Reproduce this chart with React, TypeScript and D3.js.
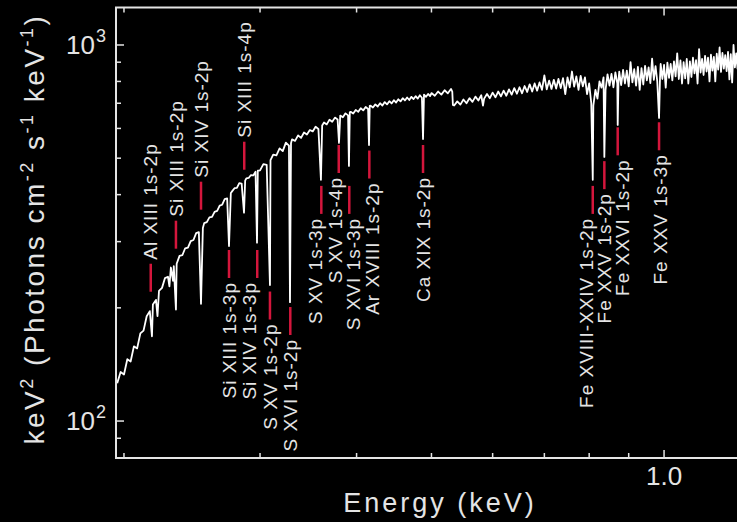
import * as d3 from "d3";

const WIDTH = 737;
const HEIGHT = 522;
const MARGIN = { left: 116, top: 7.5, right: 760, bottom: 458 };

// x axis is labelled in the figure's own units (1.0 at the major tick)
const X_DOMAIN = [0.1953, 1.331];
const Y_DOMAIN = [79.75, 1258];

const X_MINOR_TICKS = [0.2, 0.3, 0.4, 0.5, 0.6, 0.7, 0.8, 0.9];
const X_MAJOR_TICKS = [1.0];
const X_TICK_LABELS = ["1.0"];

const Y_MINOR_TICKS = [90, 200, 300, 400, 500, 600, 700, 800, 900];
const Y_MAJOR_TICKS = [100, 1000];
const Y_TICK_EXPONENTS = ["2", "3"];

// [energy, keV^2 flux]
const SPECTRUM: [number, number][] = [
  [0.196, 126], [0.198, 135], [0.2, 133], [0.202, 146], [0.204, 144], [0.206, 158],
  [0.208, 156], [0.21, 171], [0.212, 174], [0.214, 190], [0.216, 196], [0.2174, 168],
  [0.218, 204], [0.22, 210], [0.221, 190], [0.222, 222], [0.224, 226], [0.226, 240],
  [0.228, 242], [0.229, 228], [0.23, 256], [0.2315, 236], [0.232, 258], [0.2335, 198],
  [0.234, 262], [0.236, 275], [0.238, 276], [0.24, 288], [0.242, 289], [0.244, 301],
  [0.246, 303], [0.248, 316], [0.25, 318], [0.2516, 205], [0.253, 326], [0.254, 336],
  [0.256, 338], [0.258, 348], [0.26, 349], [0.262, 360], [0.264, 362], [0.266, 374],
  [0.268, 376], [0.27, 389], [0.272, 391], [0.2735, 292], [0.275, 404], [0.276, 408],
  [0.278, 416], [0.28, 417], [0.282, 429], [0.284, 428], [0.286, 358], [0.287, 436],
  [0.288, 442], [0.29, 443], [0.292, 451], [0.294, 450], [0.296, 460], [0.2973, 298],
  [0.298, 463], [0.3, 464], [0.303, 482], [0.306, 480], [0.309, 230], [0.3095, 494],
  [0.312, 511], [0.315, 509], [0.318, 531], [0.321, 522], [0.324, 550], [0.327, 540],
  [0.328, 207], [0.329, 548], [0.33, 561], [0.333, 556], [0.336, 575], [0.339, 566],
  [0.342, 585], [0.345, 578], [0.348, 594], [0.351, 589], [0.354, 606], [0.357, 598],
  [0.3597, 438], [0.361, 611], [0.363, 622], [0.366, 615], [0.369, 633], [0.372, 625],
  [0.375, 641], [0.378, 634], [0.3796, 549], [0.381, 649], [0.384, 642], [0.387, 658],
  [0.39, 650], [0.391, 477], [0.392, 662], [0.393, 664], [0.396, 657], [0.399, 672],
  [0.402, 664], [0.405, 679], [0.408, 670], [0.411, 684], [0.414, 676], [0.4151, 542],
  [0.416, 689], [0.417, 690], [0.42, 682], [0.423, 695], [0.426, 686], [0.429, 700],
  [0.432, 690], [0.435, 705], [0.438, 695], [0.441, 709], [0.444, 699], [0.447, 713],
  [0.45, 703], [0.453, 717], [0.456, 708], [0.459, 722], [0.462, 712], [0.465, 725],
  [0.468, 714], [0.471, 728], [0.474, 718], [0.477, 731], [0.48, 720], [0.483, 735],
  [0.486, 724], [0.4876, 562], [0.489, 738], [0.492, 728], [0.495, 741], [0.498, 731],
  [0.5, 745], [0.505, 733], [0.51, 752], [0.515, 738], [0.52, 758], [0.525, 744],
  [0.53, 764], [0.532, 752], [0.533, 693], [0.535, 690], [0.54, 708], [0.545, 694],
  [0.55, 716], [0.555, 700], [0.56, 722], [0.565, 706], [0.57, 729], [0.575, 712],
  [0.58, 735], [0.583, 690], [0.585, 720], [0.59, 741], [0.595, 722], [0.6, 747],
  [0.605, 726], [0.61, 752], [0.615, 730], [0.62, 756], [0.625, 733], [0.63, 762],
  [0.635, 738], [0.64, 768], [0.645, 742], [0.65, 772], [0.655, 744], [0.66, 778],
  [0.665, 750], [0.67, 786], [0.675, 752], [0.68, 790], [0.685, 756], [0.69, 795],
  [0.695, 760], [0.7, 830], [0.705, 762], [0.71, 804], [0.715, 764], [0.72, 808],
  [0.725, 766], [0.73, 812], [0.735, 768], [0.74, 816], [0.745, 740], [0.75, 820],
  [0.755, 772], [0.76, 850], [0.765, 775], [0.77, 825], [0.775, 760], [0.78, 828],
  [0.785, 776], [0.79, 820], [0.795, 740], [0.8, 790], [0.805, 700], [0.8086, 438],
  [0.81, 690], [0.815, 760], [0.82, 720], [0.825, 800], [0.83, 770], [0.835, 820],
  [0.837, 504], [0.84, 760], [0.845, 835], [0.85, 780], [0.855, 838], [0.86, 772],
  [0.865, 845], [0.87, 790], [0.871, 613], [0.873, 800], [0.875, 850], [0.88, 782],
  [0.885, 858], [0.89, 790], [0.895, 855], [0.9, 776], [0.905, 900], [0.91, 795],
  [0.915, 862], [0.92, 780], [0.925, 875], [0.93, 760], [0.935, 868], [0.94, 785],
  [0.945, 880], [0.95, 805], [0.955, 872], [0.96, 792], [0.965, 920], [0.97, 808],
  [0.975, 878], [0.98, 800], [0.9852, 640], [0.988, 815], [0.99, 890], [0.995, 812],
  [1.0, 885], [1.005, 770], [1.01, 898], [1.015, 818], [1.02, 890], [1.025, 805],
  [1.03, 905], [1.035, 825], [1.04, 950], [1.045, 812], [1.05, 910], [1.055, 790],
  [1.06, 900], [1.065, 815], [1.07, 918], [1.075, 790], [1.08, 905], [1.085, 822],
  [1.09, 925], [1.095, 840], [1.1, 912], [1.105, 790], [1.11, 975], [1.115, 845],
  [1.12, 918], [1.125, 832], [1.13, 936], [1.135, 850], [1.14, 925], [1.145, 800],
  [1.15, 942], [1.155, 855], [1.16, 930], [1.165, 800], [1.17, 948], [1.175, 860],
  [1.18, 985], [1.185, 848], [1.19, 952], [1.195, 865], [1.2, 940], [1.205, 852],
  [1.21, 958], [1.215, 810], [1.22, 945], [1.225, 795], [1.23, 1000], [1.235, 872],
  [1.24, 950], [1.245, 862],
];

// absorption line markers: energy, flux at top of the red tick, label side
const LINE_LABELS = [
  "Al XIII 1s-2p", "Si XIII 1s-2p", "Si XIV 1s-2p", "Si XIII 1s-4p",
  "Si XIII 1s-3p", "Si XIV 1s-3p", "S XV 1s-2p", "S XVI 1s-2p",
  "S XV 1s-3p", "S XV 1s-4p", "S XVI 1s-3p", "Ar XVIII 1s-2p",
  "Ca XIX 1s-2p", "Fe XVIII-XXIV 1s-2p", "Fe XXV 1s-2p", "Fe XXVI 1s-2p",
  "Fe XXV 1s-3p",
];
const LINE_ENERGIES = [
  0.2166, 0.2335, 0.2516, 0.2862, 0.2735, 0.2975, 0.309, 0.3283,
  0.3601, 0.3793, 0.3914, 0.4155, 0.4876, 0.8086, 0.837, 0.871, 0.9852,
];
const LINE_FLUX_TOP = [
  262, 341, 433, 553, 285, 285, 221, 201, 422, 542, 422, 524, 542, 422, 491, 604, 623,
];
const LINE_TEXT_ABOVE = [
  true, true, true, true, false, false, false, false,
  false, false, false, false, false, false, false, false, false,
];
// sideways nudge of crowded labels, px
const LABEL_NUDGE = [0, 0, 0, 0, 0, -8, 0, 0, -6, -3, 4, 3, 0, -6, 0, 5, 1];

const FG = "#e4e4e4";
const RED = "#d4163c";
const FONT = "'Liberation Sans', Arial, Helvetica, sans-serif";
const TICK_MINOR = 5;
const TICK_MAJOR = 8;
const MARK_LEN = 28;

export default function App() {
  const xScale = d3.scaleLog().domain(X_DOMAIN).range([MARGIN.left, MARGIN.right]);
  const yScale = d3.scaleLog().domain(Y_DOMAIN).range([MARGIN.bottom, MARGIN.top]);

  const line = d3
    .line<[number, number]>()
    .x((d) => xScale(d[0]))
    .y((d) => yScale(d[1]));

  const xTicks = [
    ...X_MINOR_TICKS.map((v) => ({ v, len: TICK_MINOR })),
    ...X_MAJOR_TICKS.map((v) => ({ v, len: TICK_MAJOR })),
  ];
  const yTicks = [
    ...Y_MINOR_TICKS.map((v) => ({ v, len: TICK_MINOR })),
    ...Y_MAJOR_TICKS.map((v) => ({ v, len: TICK_MAJOR })),
  ];

  return (
    <svg
      width={WIDTH}
      height={HEIGHT}
      style={{ position: "absolute", left: 0, top: 0, background: "#000", display: "block" }}
      fontFamily={FONT}
    >
      <rect x={0} y={0} width={WIDTH} height={HEIGHT} fill="#000" />
      <defs>
        <clipPath id="plot-clip">
          <rect
            x={MARGIN.left}
            y={MARGIN.top}
            width={MARGIN.right - MARGIN.left}
            height={MARGIN.bottom - MARGIN.top}
          />
        </clipPath>
      </defs>

      {/* spectrum */}
      <path
        d={line(SPECTRUM) ?? ""}
        fill="none"
        stroke="#fff"
        strokeWidth={1.8}
        strokeLinejoin="round"
        clipPath="url(#plot-clip)"
      />

      {/* frame */}
      <path
        d={`M${MARGIN.right},${MARGIN.top}H${MARGIN.left}V${MARGIN.bottom}H${MARGIN.right}`}
        fill="none"
        stroke={FG}
        strokeWidth={2}
      />

      {/* x ticks, bottom and top, pointing inward */}
      {xTicks.map((t, i) => {
        const x = xScale(t.v);
        return (
          <g key={"xt" + i} stroke={FG} strokeWidth={1.5}>
            <line x1={x} x2={x} y1={MARGIN.bottom} y2={MARGIN.bottom - t.len} />
            <line x1={x} x2={x} y1={MARGIN.top} y2={MARGIN.top + t.len} />
          </g>
        );
      })}
      {X_MAJOR_TICKS.map((v, i) => (
        <text
          key={"xl" + i}
          x={xScale(v)}
          y={MARGIN.bottom + 27}
          textAnchor="middle"
          fontSize={26}
          fill={FG}
        >
          {X_TICK_LABELS[i]}
        </text>
      ))}

      {/* y ticks */}
      {yTicks.map((t, i) => {
        const y = yScale(t.v);
        return (
          <line
            key={"yt" + i}
            x1={MARGIN.left}
            x2={MARGIN.left + t.len}
            y1={y}
            y2={y}
            stroke={FG}
            strokeWidth={1.5}
          />
        );
      })}
      {Y_MAJOR_TICKS.map((v, i) => (
        <text
          key={"yl" + i}
          x={66}
          y={yScale(v) + 9}
          textAnchor="start"
          fontSize={26}
          fill={FG}
        >
          10
          <tspan fontSize={18} dx={1} dy={-12}>
            {Y_TICK_EXPONENTS[i]}
          </tspan>
        </text>
      ))}

      {/* line markers and labels */}
      {LINE_LABELS.map((label, i) => {
        const x = xScale(LINE_ENERGIES[i]);
        const yTop = yScale(LINE_FLUX_TOP[i]);
        const above = LINE_TEXT_ABOVE[i];
        const ty = above ? yTop - 4 : yTop + MARK_LEN + 4;
        return (
          <g key={"ln" + i}>
            <line x1={x} x2={x} y1={yTop} y2={yTop + MARK_LEN} stroke={RED} strokeWidth={2.5} />
            <text
              transform={`translate(${x + LABEL_NUDGE[i]},${ty}) rotate(-90)`}
              dy="0.35em"
              textAnchor={above ? "start" : "end"}
              fontSize={19}
              letterSpacing={1}
              fill={FG}
            >
              {label}
            </text>
          </g>
        );
      })}

      {/* axis titles */}
      <text
        x={440}
        y={512}
        textAnchor="middle"
        fontSize={27}
        letterSpacing={3}
        fill={FG}
      >
        Energy (keV)
      </text>
      <text
        transform={`translate(44,${229}) rotate(-90)`}
        textAnchor="middle"
        fontSize={28}
        letterSpacing={2.5}
        fill={FG}
      >
        keV<tspan fontSize={18} dy={-11}>2</tspan>
        <tspan dy={11}> (Photons cm</tspan>
        <tspan fontSize={18} dy={-11}>-2</tspan>
        <tspan dy={11}> s</tspan>
        <tspan fontSize={18} dy={-11}>-1</tspan>
        <tspan dy={11}> keV</tspan>
        <tspan fontSize={18} dy={-11}>-1</tspan>
        <tspan dy={11}>)</tspan>
      </text>
    </svg>
  );
}
